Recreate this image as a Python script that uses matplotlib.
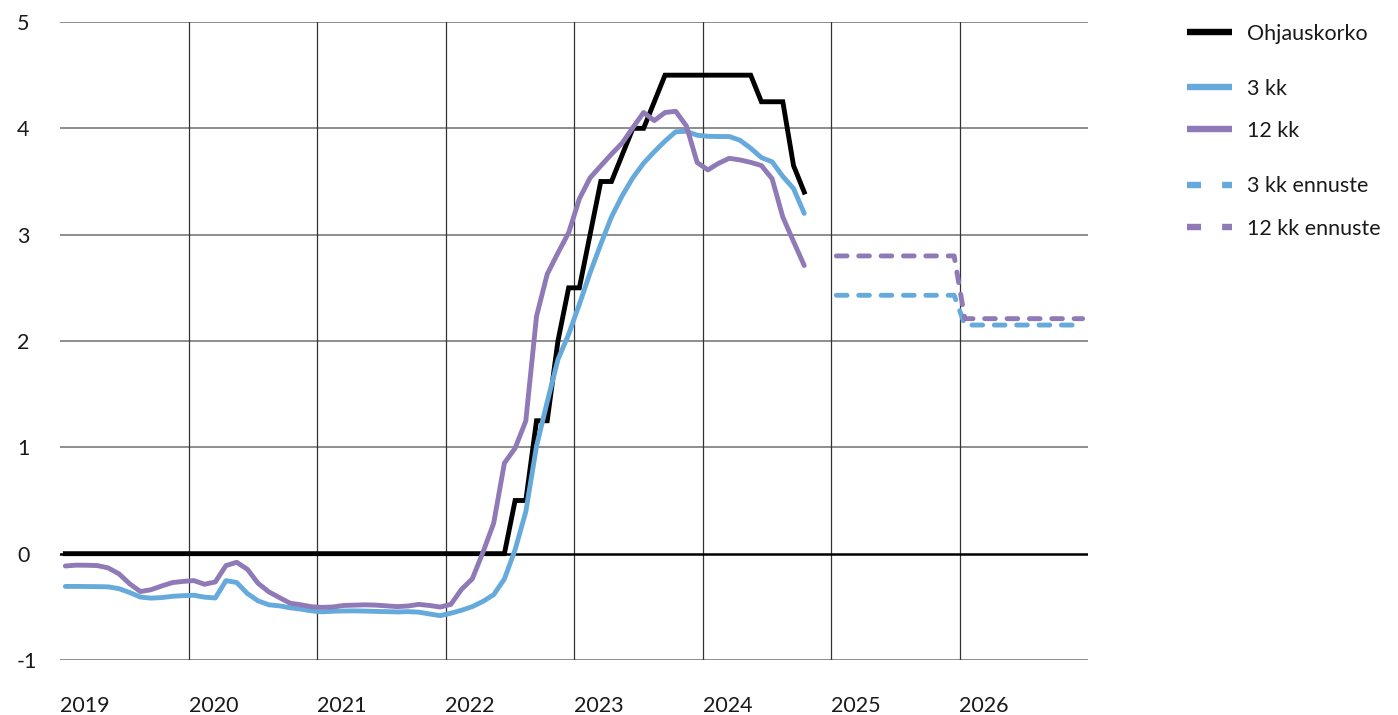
import matplotlib
matplotlib.use("Agg")
import matplotlib.pyplot as plt
from matplotlib.lines import Line2D
import numpy as np

# ---------------- data ----------------
years = [2019, 2020, 2021, 2022, 2023, 2024, 2025, 2026]
year_labels = ["2019", "2020", "2021", "2022", "2023", "2024", "2025", "2026"]
yticks = [-1, 0, 1, 2, 3, 4, 5]

# monthly values Jan 2019 .. Oct 2024
ohjauskorko = ([0.0] * 42 +
               [0.5, 0.5, 1.25, 1.25, 2.0, 2.5,
                2.5, 3.0, 3.5, 3.5, 3.75, 4.0, 4.0, 4.25, 4.5, 4.5, 4.5, 4.5,
                4.5, 4.5, 4.5, 4.5, 4.5, 4.25, 4.25, 4.25, 3.65, 3.40])

kk3 = [-0.308, -0.308, -0.309, -0.310, -0.312, -0.329, -0.365, -0.408, -0.418, -0.413, -0.401, -0.395,
       -0.391, -0.409, -0.417, -0.254, -0.271, -0.375, -0.444, -0.481, -0.491, -0.509, -0.522, -0.538,
       -0.547, -0.541, -0.539, -0.538, -0.540, -0.543, -0.545, -0.548, -0.545, -0.550, -0.567, -0.583,
       -0.560, -0.532, -0.498, -0.449, -0.386, -0.238, 0.037, 0.395, 1.011, 1.428, 1.825, 2.063,
       2.345, 2.640, 2.911, 3.167, 3.366, 3.536, 3.672, 3.780, 3.880, 3.968, 3.972, 3.935,
       3.925, 3.923, 3.923, 3.888, 3.813, 3.725, 3.685, 3.548, 3.434, 3.200]

kk12 = [-0.116, -0.108, -0.109, -0.112, -0.134, -0.189, -0.283, -0.356, -0.339, -0.304, -0.272, -0.261,
        -0.253, -0.288, -0.266, -0.112, -0.081, -0.147, -0.279, -0.359, -0.414, -0.466, -0.481, -0.499,
        -0.505, -0.501, -0.487, -0.484, -0.481, -0.484, -0.491, -0.498, -0.492, -0.477, -0.487, -0.502,
        -0.477, -0.335, -0.237, 0.013, 0.287, 0.852, 0.992, 1.249, 2.233, 2.629, 2.828, 3.018,
        3.337, 3.534, 3.647, 3.757, 3.862, 4.007, 4.149, 4.073, 4.149, 4.160, 4.022, 3.679,
        3.609, 3.671, 3.718, 3.703, 3.680, 3.650, 3.526, 3.166, 2.936, 2.710]

# forecasts, monthly Jan 2025 .. Dec 2026
kk3_ennuste = [2.43] * 12 + [2.15] * 12
kk12_ennuste = [2.80] * 12 + [2.21] * 12

# ---------------- style ----------------
BLUE = "#66aadc"
PURPLE = "#8f79b6"
TXT = "#1a1a1a"
FONT = ["Lato", "DejaVu Sans"]
plt.rcParams["font.family"] = FONT
FS = 15.5

def month_x(start_year, n):
    return start_year + (np.arange(n) + 0.5) / 12.0

fig = plt.figure(figsize=(13.98, 7.15), dpi=100)
ax = fig.add_axes([60 / 1398, 1 - 660 / 715, (1088 - 60) / 1398, (660 - 22) / 715])

ax.set_xlim(2019, 2027)
ax.set_ylim(-1, 5)

# grid
for y in yticks:
    if y == 0:
        continue
    ax.axhline(y, color="#7a7a7a", lw=1.2, zorder=1)
for yr in years[1:]:
    ax.axvline(yr, color="#333333", lw=0.9, zorder=1)
ax.axhline(0, color="black", lw=1.8, zorder=1.5)

lw = 3.5
x_hist = month_x(2019, len(kk3))
x_fc = month_x(2025, len(kk3_ennuste))

ax.plot(x_hist, ohjauskorko, color="black", lw=lw, zorder=3, solid_joinstyle="miter")
ax.plot(x_hist, kk3, color=BLUE, lw=lw, zorder=4, solid_capstyle="round")
ax.plot(x_hist, kk12, color=PURPLE, lw=lw, zorder=5, solid_capstyle="round")
ax.plot(x_fc, kk3_ennuste, color=BLUE, lw=lw, zorder=4,
        linestyle=(0, (2.2, 2.4)), dash_capstyle="round")
ax.plot(x_fc, kk12_ennuste, color=PURPLE, lw=lw, zorder=5,
        linestyle=(0, (2.2, 2.4)), dash_capstyle="round")

for s in ax.spines.values():
    s.set_visible(False)

ax.set_yticks(yticks)
ax.set_yticklabels([str(v) for v in yticks], fontsize=FS, ha="left", color=TXT)
ax.tick_params(axis="y", length=0, pad=31)
ax.set_xticks(years)
ax.set_xticklabels(year_labels, fontsize=FS, ha="left", color=TXT)
ax.tick_params(axis="x", length=0, pad=26)

# legends
def mk(color, dashed=False):
    if dashed:
        return Line2D([], [], color=color, lw=4.6, linestyle=(0, (2.2, 3.3)),
                      dash_capstyle="butt")
    return Line2D([], [], color=color, lw=4.6, solid_capstyle="butt")

common = dict(frameon=False, handlelength=2.1, handletextpad=0.7,
              borderpad=0, borderaxespad=0, loc="center left", labelcolor=TXT,
              bbox_transform=fig.transFigure, prop={"family": FONT, "size": FS})

leg1 = fig.legend([mk("black")], ["Ohjauskorko"],
                  bbox_to_anchor=(1187 / 1398, 1 - 34 / 715), **common)
leg2 = fig.legend([mk(BLUE), mk(PURPLE)], ["3 kk", "12 kk"], labelspacing=1.02,
                  bbox_to_anchor=(1187 / 1398, 1 - 110 / 715), **common)
leg3 = fig.legend([mk(BLUE, True), mk(PURPLE, True)], ["3 kk ennuste", "12 kk ennuste"],
                  labelspacing=1.05,
                  bbox_to_anchor=(1187 / 1398, 1 - 207.5 / 715), **common)

fig.savefig("out.png", dpi=100)
